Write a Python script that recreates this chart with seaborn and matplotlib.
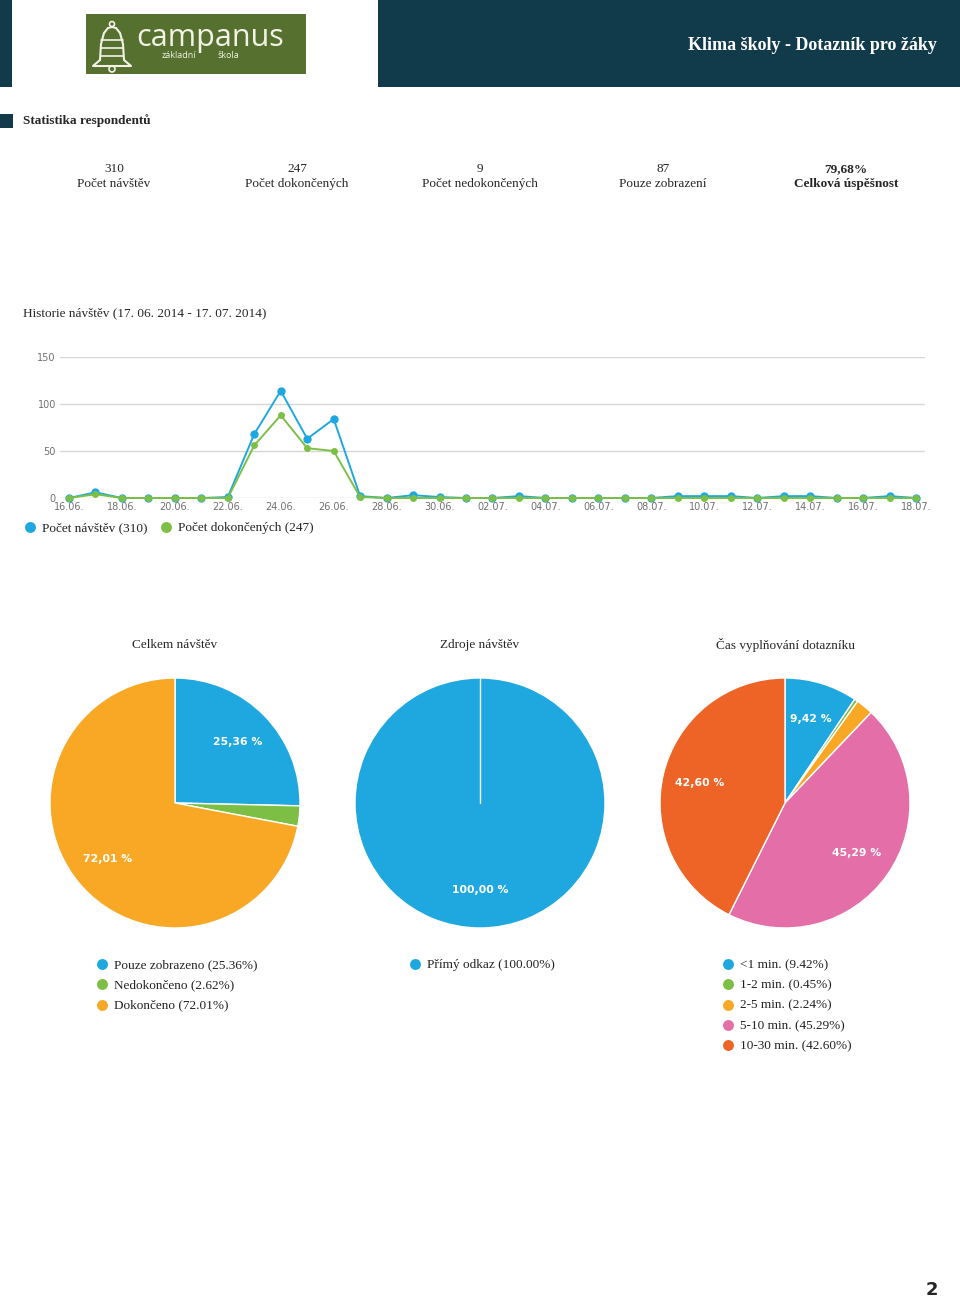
import pandas as pd
import matplotlib.pyplot as plt
import matplotlib.patches as mpatches
import seaborn as sns

# ---- data ----
dates = ["16.06.", "17.06.", "18.06.", "19.06.", "20.06.", "21.06.", "22.06.", "23.06.",
         "24.06.", "25.06.", "26.06.", "27.06.", "28.06.", "29.06.", "30.06.", "01.07.",
         "02.07.", "03.07.", "04.07.", "05.07.", "06.07.", "07.07.", "08.07.", "09.07.",
         "10.07.", "11.07.", "12.07.", "13.07.", "14.07.", "15.07.", "16.07.", "17.07.", "18.07."]
visits = [0, 6, 0, 0, 0, 0, 1, 68, 114, 63, 84, 2, 0, 3, 1, 0,
          0, 2, 0, 0, 0, 0, 0, 2, 2, 2, 0, 2, 2, 0, 0, 2, 0]
completed = [0, 4, 0, 0, 0, 0, 0, 56, 88, 53, 50, 1, 0, 0, 0, 0,
             0, 0, 0, 0, 0, 0, 0, 0, 0, 0, 0, 0, 0, 0, 0, 0, 0]
line_legend = ["Počet návštěv (310)", "Počet dokončených (247)"]

stat_values = ["310", "247", "9", "87", "79,68%"]
stat_labels = ["Počet návštěv", "Počet dokončených", "Počet nedokončených",
               "Pouze zobrazení", "Celková úspěšnost"]

pie_titles = ["Celkem návštěv", "Zdroje návštěv", "Čas vyplňování dotazníku"]
pie1_labels = ["Pouze zobrazeno", "Nedokončeno", "Dokončeno"]
pie1_values = [25.36, 2.62, 72.01]
pie2_labels = ["Přímý odkaz"]
pie2_values = [100.00]
pie3_labels = ["<1 min.", "1-2 min.", "2-5 min.", "5-10 min.", "10-30 min."]
pie3_values = [9.42, 0.45, 2.24, 45.29, 42.60]

BLUE, GREEN, ORANGE, PINK, RED = "#1fa8df", "#7dbf45", "#f9a825", "#e46ea8", "#ee6326"
DARK = "#113a4a"
pie_colors = [[BLUE, GREEN, ORANGE], [BLUE], [BLUE, GREEN, ORANGE, PINK, RED]]

sns.set_theme(style="white")
plt.rcParams["font.family"] = ["Liberation Serif", "DejaVu Sans"]

W, H = 960, 1298
fig = plt.figure(figsize=(W / 100, H / 100), dpi=100)


def rect(x0, y0, x1, y1):
    return [x0 / W, 1 - y1 / H, (x1 - x0) / W, (y1 - y0) / H]


# page layer for header / texts
page = fig.add_axes([0, 0, 1, 1])
page.set_xlim(0, W)
page.set_ylim(H, 0)
page.axis("off")

page.add_patch(mpatches.Rectangle((0, 0), 12, 87, color=DARK, lw=0))
page.add_patch(mpatches.Rectangle((378, 0), 582, 87, color=DARK, lw=0))
page.text(937, 45, "Klima školy - Dotazník pro žáky", color="white", fontsize=13,
          fontweight="bold", ha="right", va="center")

# logo
page.add_patch(mpatches.Rectangle((86, 14), 220, 60, color="#56702f", lw=0))
bell_x = [100, 101, 104, 108, 112, 116, 120, 123, 124, 131, 93, 100]
bell_y = [60, 44, 33, 28, 27, 28, 33, 44, 60, 66, 66, 60]
page.plot(bell_x, bell_y, color="#f2f2e6", lw=1.5)
for yy in [40, 48, 56]:
    page.plot([101, 123], [yy, yy], color="#f2f2e6", lw=1.2)
page.add_patch(mpatches.Circle((112, 24), 2.5, fill=False, ec="#f2f2e6", lw=1.2))
page.add_patch(mpatches.Circle((112, 69), 3, fill=False, ec="#f2f2e6", lw=1.2))
page.text(136, 38, "campanus", color="#f2f2e6", fontsize=22, family="Open Sans",
          ha="left", va="center")
page.text(162, 55, "základní", color="#f2f2e6", fontsize=6.5, family="Open Sans",
          ha="left", va="center")
page.text(218, 55, "škola", color="#f2f2e6", fontsize=6.5, family="Open Sans",
          ha="left", va="center")

# statistics block
page.add_patch(mpatches.Rectangle((0, 114), 13, 14, color=DARK, lw=0))
page.text(23, 121, "Statistika respondentů", fontsize=9.5, fontweight="bold",
          ha="left", va="center")
for i, (v, lab) in enumerate(zip(stat_values, stat_labels)):
    cx = 114 + i * 183
    fw = "bold" if i == len(stat_values) - 1 else "normal"
    page.text(cx, 169, v, fontsize=9.5, fontweight=fw, ha="center", va="center")
    page.text(cx, 184, lab, fontsize=9.5, fontweight=fw, ha="center", va="center")

page.text(23, 313, "Historie návštěv (17. 06. 2014 - 17. 07. 2014)", fontsize=9.5,
          ha="left", va="center")

# ---- line chart ----
days = list(range(len(dates)))
df = pd.DataFrame({"day": days + days,
                   "value": visits + completed,
                   "series": [line_legend[0]] * len(days) + [line_legend[1]] * len(days)})

ax = fig.add_axes(rect(60, 357, 925, 498))
ax.set_facecolor("none")
sns.lineplot(data=df[df["series"] == line_legend[0]], x="day", y="value", color=BLUE,
             marker="o", markersize=6, markeredgewidth=0, linewidth=1.4, ax=ax,
             legend=False, clip_on=False)
sns.lineplot(data=df[df["series"] == line_legend[1]], x="day", y="value", color=GREEN,
             marker="o", markersize=5, markeredgewidth=0, linewidth=1.4, ax=ax,
             legend=False, clip_on=False)
ax.set_xlim(-0.34, 32.34)
ax.set_ylim(0, 150)
ax.set_yticks([0, 50, 100, 150])
ax.set_xticks(days[::2])
ax.set_xticklabels(dates[::2])
ax.grid(axis="y", color="#d6d6d6", linewidth=1)
ax.grid(axis="x", visible=False)
for s in ax.spines.values():
    s.set_visible(False)
ax.tick_params(length=0, pad=3, labelsize=7, labelcolor="#707070")
for t in ax.get_xticklabels() + ax.get_yticklabels():
    t.set_family("DejaVu Sans")
ax.set_xlabel("")
ax.set_ylabel("")

for i, (lab, col) in enumerate(zip(line_legend, [BLUE, GREEN])):
    x0 = 30 + i * 136
    page.scatter([x0], [527], s=62, color=col, lw=0)
    page.text(x0 + 12, 528, lab, fontsize=9.5, ha="left", va="center", color="#222222")

# ---- pies ----
pies = [(pie1_labels, pie1_values), (pie2_labels, pie2_values), (pie3_labels, pie3_values)]
for k, ((labels, values), cols, title) in enumerate(zip(pies, pie_colors, pie_titles)):
    cx = 175 + k * 305
    page.text(cx, 645, title, fontsize=9.5, ha="center", va="center")
    pax = fig.add_axes(rect(cx - 126, 803 - 126, cx + 126, 803 + 126))
    wedges, _, autotexts = pax.pie(
        values, colors=cols, startangle=90, counterclock=False, radius=125 / 126,
        autopct="%.2f", pctdistance=0.7,
        wedgeprops=dict(edgecolor="white", linewidth=1),
        textprops=dict(color="white", fontsize=7.8, fontweight="bold",
                       family="DejaVu Sans"))
    # show the original percentages, only for the larger slices
    for t, v in zip(autotexts, values):
        t.set_text(f"{v:.2f} %".replace(".", ",") if v > 5 else "")
    if len(values) == 1:
        # single full slice: keep the white seam at its start edge
        pax.plot([0, 0], [0, 125 / 126], color="white", lw=1)
    pax.set_xlim(-1, 1)
    pax.set_ylim(-1, 1)
    pax.set_aspect("equal")
    pax.axis("off")

    lx = 102 + k * 313
    for j, (lab, v, col) in enumerate(zip(labels, values, cols)):
        yy = 964 + j * 20.3
        page.scatter([lx], [yy], s=62, color=col, lw=0)
        page.text(lx + 12, yy + 1, f"{lab} ({v:.2f}%)", fontsize=9.5, ha="left",
                  va="center", color="#222222")

page.text(932, 1290, "2", fontsize=13, fontweight="bold", family="DejaVu Sans",
          ha="center", va="center")

plt.savefig("out.png", dpi=100)
